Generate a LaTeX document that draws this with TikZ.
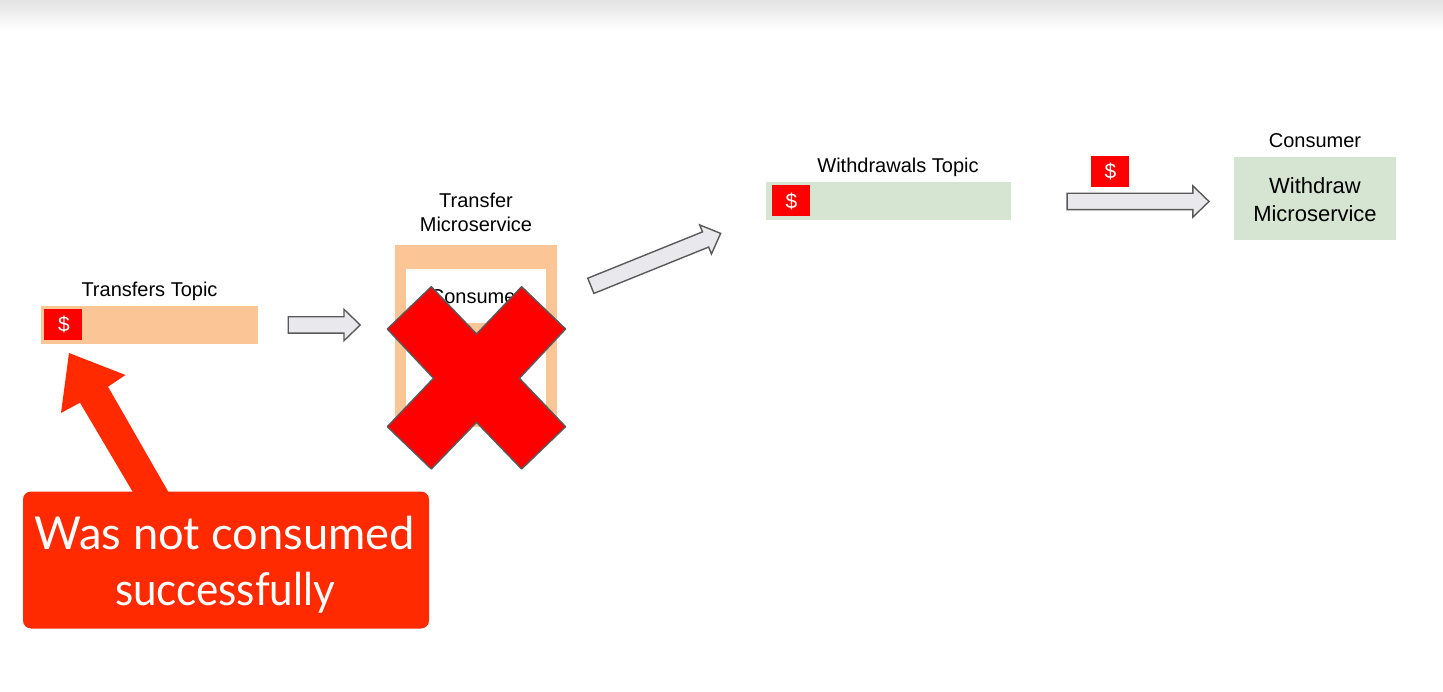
\documentclass[tikz,border=0pt]{standalone}
\usepackage{fontspec}
\setmainfont{Liberation Sans}
\newfontfamily\callout{Lato}
\newfontfamily\calloutnarrow[FakeStretch=0.93]{Lato}
\usetikzlibrary{shapes.arrows}
\definecolor{peach}{HTML}{FBC596}
\definecolor{sage}{HTML}{D6E5D1}
\definecolor{money}{HTML}{FF0000}
\definecolor{alert}{HTML}{FF2A00}
\definecolor{edgegrey}{HTML}{595959}
\definecolor{arrowfill}{HTML}{E9E8ED}
\tikzset{
  plain/.style={inner sep=0pt,outer sep=0pt,draw=none},
  lbl/.style={plain,font=\fontsize{20}{24}\selectfont,align=center,text=black},
  dollar/.style={plain,fill=money,minimum width=38pt,minimum height=31pt,text=white,font=\fontsize{21}{24}\selectfont},
  bigarrow/.style={plain,shape=single arrow,draw=edgegrey,line width=1.4pt,fill=arrowfill,
    single arrow head extend=7.5pt,single arrow tip angle=88}
}
\newcommand{\shaftstrut}{\rule{0pt}{15pt}}
\newcommand{\moneysign}{\raisebox{-1pt}{\kern2pt\$}}
\begin{document}
\begin{tikzpicture}[x=1pt,y=-1pt]
\useasboundingbox (0,0) rectangle (1443,692);
\fill[white] (0,0) rectangle (1443,692);
\shade[top color=black!11,bottom color=white] (0,0) rectangle (1443,30);

% transfers topic
\node[plain,fill=peach,minimum width=217pt,minimum height=38pt] (bar1) at (149.5,325) {};
\node[dollar] (d1) at (63,324.5) {\moneysign};
\node[lbl] (t1) at (149.5,291) {Transfers Topic};

% arrow 1
\node[bigarrow,minimum height=72pt] (a1) at (320,325) {\shaftstrut};

% microservice
\node[plain,fill=peach,minimum width=162pt,minimum height=182pt] (ms) at (476,336) {};
\node[plain,fill=white,minimum width=140pt,minimum height=148pt] (msin) at (476,343) {};
\node[plain,fill=peach,minimum width=73pt,minimum height=104pt] (mscore) at (476,375) {};
\node[lbl] (cons1) at (476,297) {Consumer};
\node[lbl] (t2) at (476,212.5) {Transfer\\Microservice};

% cross
\draw[fill=money,draw=edgegrey,line width=1.4pt,line join=round]
  (431.3,286.7) -- (476.5,334) -- (521.6,286.7) -- (565.6,329) -- (519.4,378.3)
  -- (565.6,426.7) -- (521.6,469) -- (476.5,422.3) -- (431.3,469) -- (387.3,426.7)
  -- (433.5,378.3) -- (387.3,329) -- cycle;

% arrow 2
\node[bigarrow,minimum height=140pt,rotate=22] (a2) at (651.8,261.2) {\shaftstrut};

% withdrawals topic
\node[plain,fill=sage,minimum width=245pt,minimum height=38pt] (bar2) at (888.5,201) {};
\node[dollar] (d2) at (790.5,201) {\moneysign};
\node[lbl] (t3) at (898,167) {Withdrawals Topic};

% arrow 3
\node[bigarrow,minimum height=142pt] (a3) at (1133.8,201.5) {\shaftstrut};
\node[dollar] (d3) at (1109.5,171.5) {\moneysign};

% withdraw microservice
\node[plain,fill=sage,minimum width=162pt,minimum height=83pt] (wm) at (1315,198.5) {};
\node[plain,align=center,font=\fontsize{22}{28}\selectfont] (wmt) at (1315,200) {Withdraw\\Microservice};
\node[lbl] (t4) at (1315,141) {Consumer};

% big red arrow + callout
\node[plain,fill=alert,rounded corners=8pt,minimum width=406pt,minimum height=137pt] (call) at (226,560) {};
\coordinate (base1) at (132.8,492);
\coordinate (base2) at (168.4,492);
\fill[alert] (base1) -- (80,402.7) -- (61,413) -- (69,353) -- (125.5,375) -- (108,386.7) -- (base2) -- cycle;
\node[plain,text=white,align=center,font=\callout\fontsize{45.3}{56}\selectfont] (callt) at (225,565) {Was not consumed\\{\calloutnarrow successfully}};
\end{tikzpicture}
\end{document}
